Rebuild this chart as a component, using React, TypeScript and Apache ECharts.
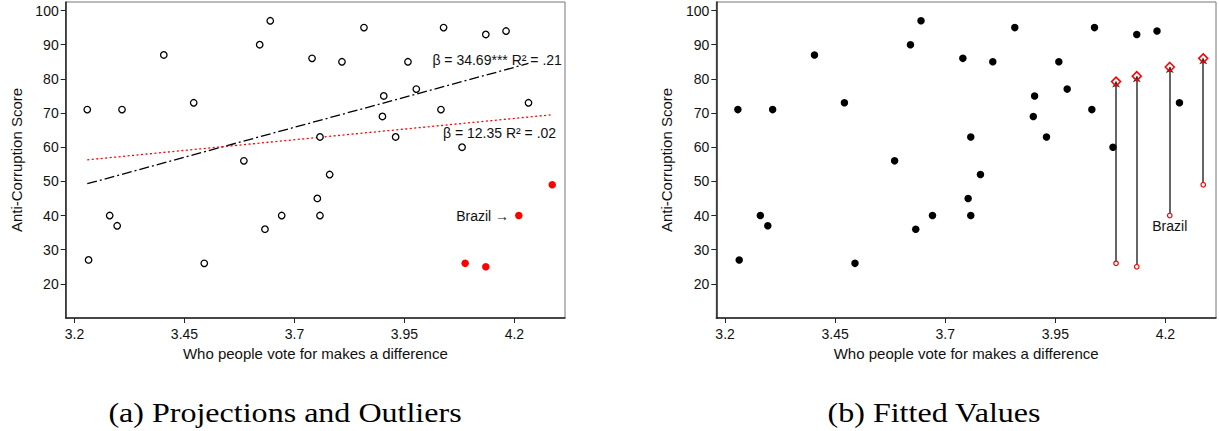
import React, { useEffect, useRef } from "react";
import * as echarts from "echarts";

// Axis ticks
const xTicks = [3.2, 3.45, 3.7, 3.95, 4.2];
const yTicks = [20, 30, 40, 50, 60, 70, 80, 90, 100];

// Regular countries: "Who people vote for makes a difference" vs Anti-Corruption Score
const countryX = [
  3.229, 3.308, 3.403, 3.471, 3.585, 3.621, 3.645, 3.740, 3.752, 3.758, 3.758,
  3.780, 3.808, 3.858, 3.900, 3.903, 3.930, 3.958, 3.977, 4.033, 4.039, 4.081,
  4.135, 4.181, 4.232, 3.280, 3.297, 3.232, 3.495, 3.633, 3.671,
];
const countryY = [
  71, 71, 87, 73, 56, 90, 97, 86, 45, 40, 63,
  52, 85, 95, 69, 75, 63, 85, 77, 71, 95, 60,
  93, 94, 73, 40, 37, 27, 26, 36, 40,
];

// Outliers (red)
const outlierX = [4.088, 4.135, 4.210, 4.286];
const outlierY = [26, 25, 40, 49];
const outlierNames = ["", "", "Brazil", ""];
// Fitted values for the outliers (from trimmed regression)
const fittedY = [79.2, 80.8, 83.5, 86.0];

// Regression lines (endpoints)
const fitAllX = [3.229, 4.286];
const fitAllY = [56.3, 69.5];
const fitTrimX = [3.229, 4.232];
const fitTrimY = [49.3, 84.5];

// Annotations (anchored at right end, data coordinates)
const annoText = ["β = 34.69*** R² = .21", "β = 12.35 R² = .02"];
const annoX = [4.309, 4.296];
const annoY = [85.5, 64.1];

const captions = ["(a) Projections and Outliers", "(b) Fitted Values"];

const SANS = '"Liberation Sans", Arial, Helvetica, sans-serif';
const TXT = "#111";

export default function App() {
  const ref = useRef<HTMLDivElement>(null);

  useEffect(() => {
    if (!ref.current) return;
    const chart = echarts.init(ref.current, undefined, { renderer: "svg" });

    const countries = countryX.map((x, i) => [x, countryY[i]]);
    const outliers = outlierX.map((x, i) => [x, outlierY[i], outlierNames[i]]);
    const fitted = outlierX.map((x, i) => [x, fittedY[i]]);

    const mkX = (gi: number) => ({
      type: "value" as const,
      gridIndex: gi,
      min: 3.18,
      max: 4.315,
      name: "Who people vote for makes a difference",
      nameLocation: "middle" as const,
      nameGap: 28,
      nameTextStyle: { fontFamily: SANS, fontSize: 15, color: TXT },
      axisLine: { show: true, onZero: false, lineStyle: { color: "#222", width: 1.5 } },
      axisTick: { show: true, length: 5, customValues: xTicks, lineStyle: { color: "#222", width: 1 } },
      axisLabel: {
        customValues: xTicks,
        margin: 9,
        fontFamily: SANS,
        fontSize: 14,
        color: TXT,
        formatter: (v: number) => String(v),
      },
      splitLine: { show: false },
    });
    const mkY = (gi: number) => ({
      type: "value" as const,
      gridIndex: gi,
      min: 10,
      max: 102.5,
      name: "Anti-Corruption Score",
      nameLocation: "middle" as const,
      nameGap: 42,
      nameTextStyle: { fontFamily: SANS, fontSize: 15, color: TXT },
      axisLine: { show: true, onZero: false, lineStyle: { color: "#222", width: 1.5 } },
      axisTick: { show: true, length: 5, customValues: yTicks, lineStyle: { color: "#222", width: 1 } },
      axisLabel: {
        customValues: yTicks,
        margin: 7,
        fontFamily: SANS,
        fontSize: 14,
        color: TXT,
      },
      splitLine: { show: false },
    });

    const option: any = {
      animation: false,
      backgroundColor: "#fff",
      grid: [
        { left: 65.7, top: 2, width: 499.3, height: 316, show: true, borderColor: "#777", borderWidth: 1, backgroundColor: "transparent" },
        { left: 716.3, top: 2, width: 499.7, height: 316, show: true, borderColor: "#777", borderWidth: 1, backgroundColor: "transparent" },
      ],
      xAxis: [mkX(0), mkX(1)],
      yAxis: [mkY(0), mkY(1)],
      series: [
        // ---- Panel (a)
        {
          type: "line",
          xAxisIndex: 0,
          yAxisIndex: 0,
          data: fitTrimX.map((x, i) => [x, fitTrimY[i]]),
          symbol: "none",
          lineStyle: { color: "#000", width: 1.3, type: [10, 3, 2, 3] },
          z: 2,
        },
        {
          type: "line",
          xAxisIndex: 0,
          yAxisIndex: 0,
          data: fitAllX.map((x, i) => [x, fitAllY[i]]),
          symbol: "none",
          lineStyle: { color: "#ff0000", width: 1.3, type: [2, 2.5] },
          z: 2,
        },
        {
          type: "scatter",
          xAxisIndex: 0,
          yAxisIndex: 0,
          data: countries,
          symbol: "circle",
          symbolSize: 6.5,
          itemStyle: { color: "#fff", borderColor: "#000", borderWidth: 1.3, opacity: 1 },
          z: 3,
        },
        {
          type: "scatter",
          xAxisIndex: 0,
          yAxisIndex: 0,
          data: outliers,
          symbol: "circle",
          symbolSize: 7.5,
          itemStyle: { color: "#ff0000", opacity: 1 },
          label: {
            show: true,
            position: "left",
            distance: 6,
            fontFamily: SANS,
            fontSize: 14,
            color: TXT,
            formatter: (p: any) => (p.value[2] ? p.value[2] + " →" : ""),
          },
          z: 3,
        },
        {
          type: "scatter",
          xAxisIndex: 0,
          yAxisIndex: 0,
          data: annoX.map((x, i) => [x, annoY[i], annoText[i]]),
          symbol: "circle",
          symbolSize: 1,
          itemStyle: { color: "rgba(0,0,0,0)" },
          label: {
            show: true,
            position: "left",
            distance: 0,
            fontFamily: SANS,
            fontSize: 14,
            color: TXT,
            opacity: 1,
            formatter: (p: any) => p.value[2],
          },
          labelLayout: { hideOverlap: false },
          z: 4,
        },
        // ---- Panel (b)
        {
          type: "scatter",
          xAxisIndex: 1,
          yAxisIndex: 1,
          data: countries,
          symbol: "circle",
          symbolSize: 7.5,
          itemStyle: { color: "#000", opacity: 1 },
          z: 3,
        },
        {
          type: "lines",
          coordinateSystem: "cartesian2d",
          xAxisIndex: 1,
          yAxisIndex: 1,
          data: outlierX.map((x, i) => ({ coords: [[x, outlierY[i]], [x, fittedY[i]]] })),
          symbol: ["none", "arrow"],
          symbolSize: 6,
          lineStyle: { color: "#333", width: 1.5, opacity: 1, curveness: 0 },
          z: 2,
        },
        {
          type: "scatter",
          xAxisIndex: 1,
          yAxisIndex: 1,
          data: outliers,
          symbol: "circle",
          symbolSize: 4.5,
          itemStyle: { color: "#fff", borderColor: "#ff0000", borderWidth: 1.2, opacity: 1 },
          label: {
            show: true,
            position: "bottom",
            distance: 1,
            fontFamily: SANS,
            fontSize: 14,
            color: TXT,
            formatter: (p: any) => p.value[2] || "",
          },
          z: 4,
        },
        {
          type: "scatter",
          xAxisIndex: 1,
          yAxisIndex: 1,
          data: fitted,
          symbol: "diamond",
          symbolSize: [9, 9],
          itemStyle: { color: "transparent", borderColor: "#ff0000", borderWidth: 1.5, opacity: 1 },
          z: 4,
        },
      ],
      graphic: [
        {
          type: "text",
          x: 285,
          y: 412.5,
          scaleX: 1.145,
          style: {
            text: captions[0],
            fontFamily: '"Liberation Serif", "Times New Roman", serif',
            fontSize: 28,
            fill: "#000",
            align: "center",
            verticalAlign: "middle",
          },
        },
        {
          type: "text",
          x: 934,
          y: 412.5,
          scaleX: 1.145,
          style: {
            text: captions[1],
            fontFamily: '"Liberation Serif", "Times New Roman", serif',
            fontSize: 28,
            fill: "#000",
            align: "center",
            verticalAlign: "middle",
          },
        },
      ],
    };

    chart.setOption(option);
    return () => chart.dispose();
  }, []);

  return (
    <div
      ref={ref}
      style={{ position: "fixed", left: 0, top: 0, width: 1219, height: 431, background: "#fff" }}
    />
  );
}
